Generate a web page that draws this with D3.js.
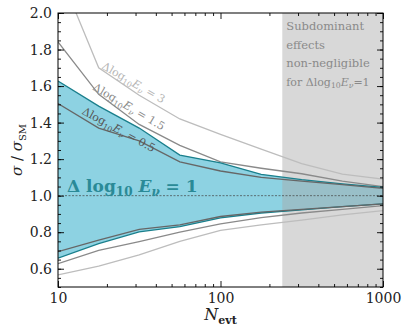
<!DOCTYPE html>
<html>
<head>
<meta charset="utf-8">
<script src="https://d3js.org/d3.v7.min.js"></script>
<style>
  body { margin: 0; background: #fff; }
  svg { display: block; }
  svg text { font-family: "DejaVu Serif", "Liberation Serif", serif; }
</style>
</head>
<body>
<div id="chart"></div>
<script>
// Event counts where the curves were evaluated
const nEvt = [10, 17.8, 31.6, 56.2, 100, 178, 316, 562, 1000];

// sigma / sigma_SM bands for each energy resolution
const d05Upper = [1.504, 1.37, 1.30, 1.185, 1.135, 1.10, 1.08, 1.06, 1.04];
const d05Lower = [0.694, 0.757, 0.815, 0.84, 0.886, 0.91, 0.925, 0.94, 0.955];
const d1Upper = [1.628, 1.49, 1.37, 1.222, 1.18, 1.117, 1.088, 1.065, 1.045];
const d1Lower = [0.658, 0.738, 0.802, 0.83, 0.878, 0.905, 0.922, 0.94, 0.955];
const d15Upper = [1.842, 1.555, 1.39, 1.275, 1.185, 1.15, 1.12, 1.08, 1.05];
const d15Lower = [0.628, 0.70, 0.749, 0.80, 0.846, 0.88, 0.905, 0.925, 0.945];
const d3Upper = [2.24, 1.70, 1.55, 1.42, 1.335, 1.255, 1.176, 1.118, 1.09];
const d3Lower = [0.566, 0.614, 0.676, 0.75, 0.81, 0.84, 0.866, 0.895, 0.918];

const subdominantStart = 240;

const xTicks = [10, 100, 1000];
const yTicks = [0.6, 0.8, 1.0, 1.2, 1.4, 1.6, 1.8, 2.0];

const W = 408, H = 336;
const margin = { top: 13, right: 25, bottom: 49, left: 58 };
const width = W - margin.left - margin.right;
const height = H - margin.top - margin.bottom;
const FONT = '"DejaVu Serif", "Liberation Serif", serif';

const svg = d3.select('#chart').append('svg')
    .attr('width', W)
    .attr('height', H);

const g = svg.append('g')
    .attr('transform', `translate(${margin.left},${margin.top})`);

const x = d3.scaleLog().domain([10, 1000]).range([0, width]);
const y = d3.scaleLinear().domain([0.5, 2.0]).range([height, 0]);

g.append('clipPath').attr('id', 'clip')
    .append('rect').attr('width', width).attr('height', height);

const plot = g.append('g').attr('clip-path', 'url(#clip)');

// teal band (Delta log10 E = 1)
const area = d3.area()
    .x((d, i) => x(nEvt[i]))
    .y0((d, i) => y(d1Lower[i]))
    .y1((d, i) => y(d1Upper[i]));

plot.append('path')
    .datum(nEvt)
    .attr('d', area)
    .attr('fill', '#8dd2e2');

// grey shaded region
plot.append('rect')
    .attr('x', x(subdominantStart))
    .attr('y', 0)
    .attr('width', width - x(subdominantStart))
    .attr('height', height)
    .attr('fill', '#a8a8a8')
    .attr('opacity', 0.45);

// reference line at 1
plot.append('line')
    .attr('x1', 0).attr('x2', width)
    .attr('y1', y(1)).attr('y2', y(1))
    .attr('stroke', '#444')
    .attr('stroke-width', 0.7)
    .attr('stroke-dasharray', '2,1.5');

const line = d3.line()
    .x((d, i) => x(nEvt[i]))
    .y(d => y(d));

const curves = [
    { vals: d3Upper, color: '#bdbdbd' },
    { vals: d3Lower, color: '#bdbdbd' },
    { vals: d15Upper, color: '#8a8a8a' },
    { vals: d15Lower, color: '#8a8a8a' },
    { vals: d1Upper, color: '#1a7f8c' },
    { vals: d1Lower, color: '#1a7f8c' },
    { vals: d05Upper, color: '#666666' },
    { vals: d05Lower, color: '#666666' },
];

curves.forEach(c => {
    plot.append('path')
        .datum(c.vals)
        .attr('d', line)
        .attr('fill', 'none')
        .attr('stroke', c.color)
        .attr('stroke-width', 1.3);
});

// axes with inward ticks
const fmtX = d => String(d);
const xMinor = [20, 30, 40, 50, 60, 70, 80, 90, 200, 300, 400, 500, 600, 700, 800, 900];
const yMinor = d3.range(0.5, 2.0001, 0.05).map(v => +v.toFixed(2));

function styleAxis(sel) {
    sel.attr('font-family', FONT);
    sel.select('.domain').remove();
    sel.selectAll('line').attr('stroke', '#000').attr('stroke-width', 0.9);
    sel.selectAll('text').attr('font-size', 14).attr('fill', '#222');
}

g.append('g').attr('transform', `translate(0,${height})`)
    .call(d3.axisBottom(x).tickValues(xTicks).tickFormat(fmtX).tickSize(-6).tickPadding(6))
    .call(styleAxis);
g.append('g').attr('transform', `translate(0,${height})`)
    .call(d3.axisBottom(x).tickValues(xMinor).tickFormat('').tickSize(-3))
    .call(styleAxis);
g.append('g')
    .call(d3.axisTop(x).tickValues(xTicks).tickFormat('').tickSize(-6))
    .call(styleAxis);
g.append('g')
    .call(d3.axisTop(x).tickValues(xMinor).tickFormat('').tickSize(-3))
    .call(styleAxis);

g.append('g')
    .call(d3.axisLeft(y).tickValues(yTicks).tickFormat(d3.format('.1f')).tickSize(-6).tickPadding(6))
    .call(styleAxis);
g.append('g')
    .call(d3.axisLeft(y).tickValues(yMinor).tickFormat('').tickSize(-3))
    .call(styleAxis);
g.append('g').attr('transform', `translate(${width},0)`)
    .call(d3.axisRight(y).tickValues(yTicks).tickFormat('').tickSize(-6))
    .call(styleAxis);
g.append('g').attr('transform', `translate(${width},0)`)
    .call(d3.axisRight(y).tickValues(yMinor).tickFormat('').tickSize(-3))
    .call(styleAxis);

g.append('rect')
    .attr('width', width).attr('height', height)
    .attr('fill', 'none')
    .attr('stroke', '#000')
    .attr('stroke-width', 1);

// Delta log10 E_nu label builder
function deltaLabel(sel, value, size, eq) {
    sel.append('tspan').text('\u0394log');
    sel.append('tspan').attr('font-size', size * 0.7).attr('dy', size * 0.25).text('10');
    sel.append('tspan').attr('dy', -size * 0.25).attr('font-style', 'italic').text('E');
    sel.append('tspan').attr('font-size', size * 0.7).attr('dy', size * 0.25).attr('font-style', 'italic').text('\u03bd');
    sel.append('tspan').attr('dy', -size * 0.25).text((eq || ' = ') + value);
}

const curveLabels = [
    { n: 18.4, v: 1.698, angle: 30, text: '3', color: '#b5b5b5' },
    { n: 16.2, v: 1.582, angle: 30.5, text: '1.5', color: '#8a8a8a' },
    { n: 13.9, v: 1.45, angle: 28.5, text: '0.5', color: '#555555' },
];

curveLabels.forEach(l => {
    const t = g.append('text')
        .attr('transform', `translate(${x(l.n)},${y(l.v)}) rotate(${l.angle})`)
        .attr('font-size', 11)
        .attr('fill', l.color);
    deltaLabel(t, l.text, 11);
});

// big teal label
const big = g.append('text')
    .attr('x', x(11.36))
    .attr('y', y(1.022))
    .attr('font-size', 17)
    .attr('font-weight', 'bold')
    .attr('fill', '#2a8a97');
big.append('tspan').text('\u0394 log');
big.append('tspan').attr('font-size', 12).attr('dy', 4).text('10');
big.append('tspan').attr('dy', -4).attr('font-style', 'italic').text(' E');
big.append('tspan').attr('font-size', 12).attr('dy', 4).attr('font-style', 'italic').text('\u03bd');
big.append('tspan').attr('dy', -4).text(' = 1');

// note in grey region
const note = ['Subdominant', 'effects', 'non-negligible'];
const noteText = g.append('text')
    .attr('x', x(subdominantStart) + 4)
    .attr('y', 17)
    .attr('font-size', 11.5)
    .attr('fill', '#8a8a8a');
note.forEach((s, i) => {
    noteText.append('tspan')
        .attr('x', x(subdominantStart) + 4)
        .attr('y', 17 + i * 18.5)
        .text(s);
});
const last = g.append('text')
    .attr('x', x(subdominantStart) + 4)
    .attr('y', 17 + 3 * 18.5)
    .attr('font-size', 11)
    .attr('fill', '#8a8a8a');
last.append('tspan').text('for ');
deltaLabel(last, '1', 11, '=');

// axis titles
const yl = svg.append('text')
    .attr('transform', `translate(22,${margin.top + height / 2}) rotate(-90)`)
    .attr('text-anchor', 'middle')
    .attr('font-size', 15)
    .attr('fill', '#222');
yl.append('tspan').attr('font-style', 'italic').text('\u03c3');
yl.append('tspan').text(' / ');
yl.append('tspan').attr('font-style', 'italic').text('\u03c3');
yl.append('tspan').attr('font-size', 10).attr('dy', 4).text('SM');

const xl = svg.append('text')
    .attr('x', margin.left + width / 2)
    .attr('y', 320)
    .attr('text-anchor', 'middle')
    .attr('font-size', 16)
    .attr('fill', '#222');
xl.append('tspan').attr('font-style', 'italic').text('N');
xl.append('tspan').attr('font-size', 11).attr('dy', 4).attr('font-weight', 'bold').text('evt');
</script>
</body>
</html>
